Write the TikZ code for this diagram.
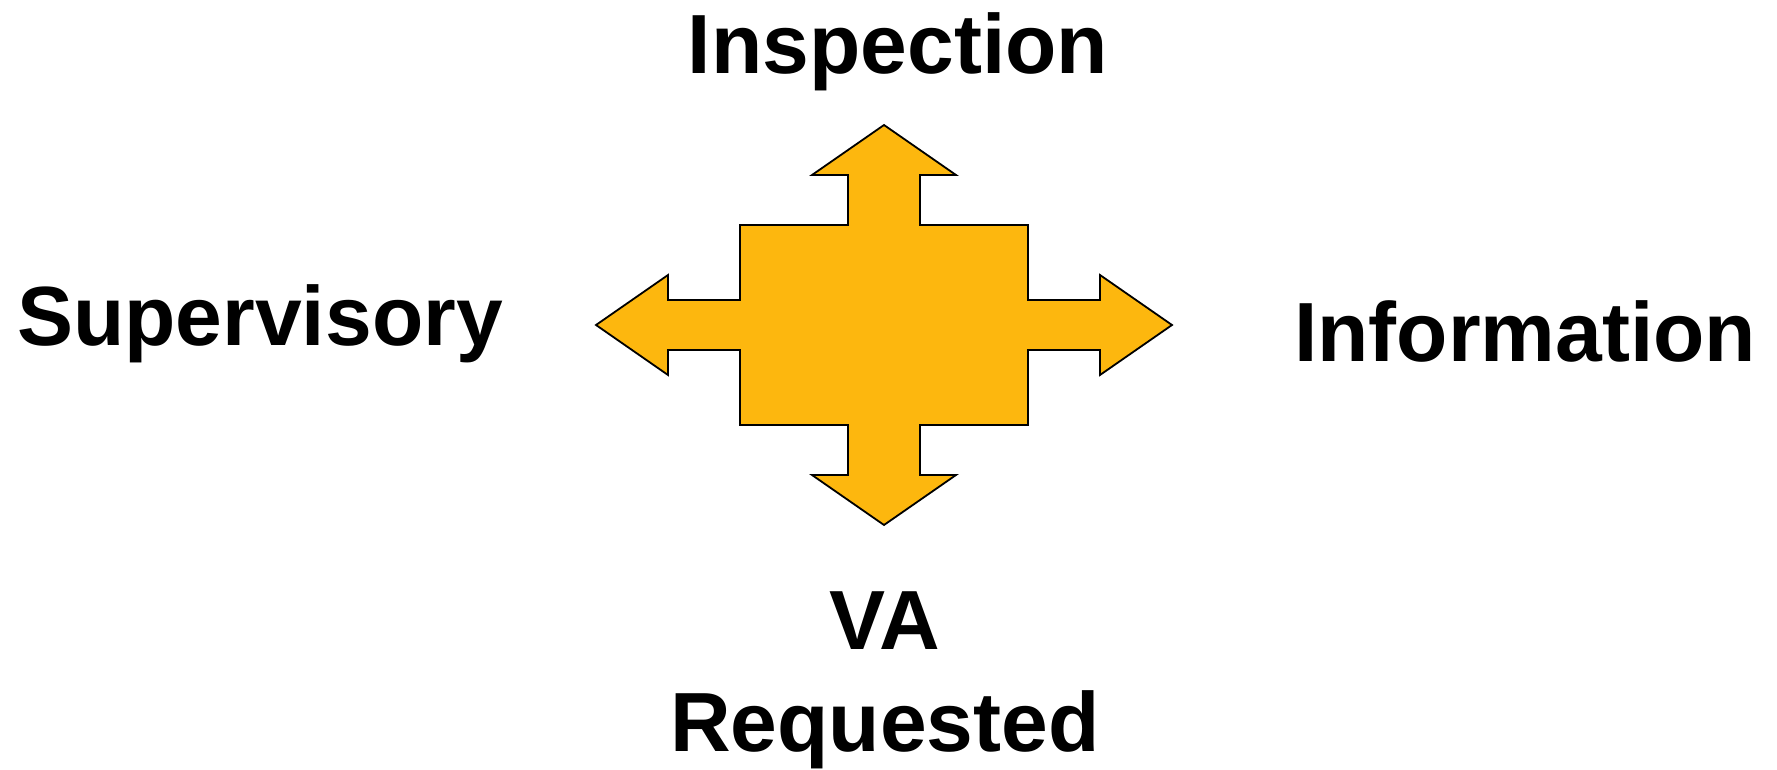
\documentclass[tikz,border=0pt]{standalone}
\usepackage{fontspec}
\setmainfont{Liberation Sans}
\definecolor{arrowfill}{RGB}{253,183,14}
\begin{document}
\begin{tikzpicture}[x=0.5pt,y=-0.5pt,
  label/.style={font=\fontsize{42}{51}\selectfont\bfseries, inner sep=0pt, align=center},
  quad/.style={fill=arrowfill, draw=black, line width=0.9pt, line join=miter}]
  \useasboundingbox (0,0) rectangle (1777,770);
  % four-way arrow around the central block
  \draw[quad] (884,125) -- (956,175) -- (920,175) -- (920,225) -- (1028,225)
    -- (1028,300) -- (1100,300) -- (1100,275) -- (1172,325) -- (1100,375)
    -- (1100,350) -- (1028,350) -- (1028,425) -- (920,425) -- (920,475)
    -- (956,475) -- (884,525) -- (812,475) -- (848,475) -- (848,425)
    -- (740,425) -- (740,350) -- (668,350) -- (668,375) -- (596,325)
    -- (668,275) -- (668,300) -- (740,300) -- (740,225) -- (848,225)
    -- (848,175) -- (812,175) -- cycle;
  % labels at the four ends
  \node[label, anchor=base] (insp) at (898,74) {Inspection};
  \node[label, anchor=base] (sup) at (260,345) {Supervisory};
  \node[label, anchor=base] (info) at (1525,361) {Information};
  \node[label, anchor=base] (va) at (885,751) {VA\\Requested};
\end{tikzpicture}
\end{document}
